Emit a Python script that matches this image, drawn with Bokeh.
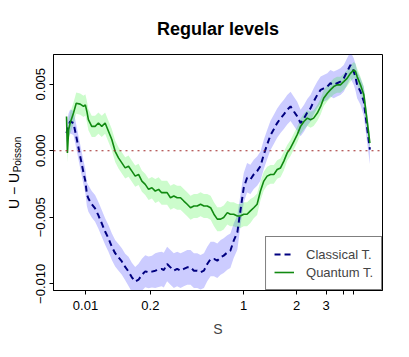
import numpy as np
from bokeh.plotting import figure
from bokeh.layouts import row
from bokeh.core.properties import value
from bokeh.models import (ColumnDataSource, Span, Legend, LegendItem,
                          FixedTicker, Range1d)
from bokeh.embed import file_html
from bokeh.resources import INLINE

# ---------------- data ----------------
# position on the (non-linear) S axis, expressed in unfolded units 0..1
pos = [0.000, 0.003, 0.007, 0.012, 0.023, 0.032, 0.045, 0.056, 0.062, 0.067,
       0.072, 0.083, 0.094, 0.105, 0.116, 0.127, 0.138, 0.149, 0.160, 0.171,
       0.182, 0.193, 0.204, 0.215, 0.226, 0.237, 0.248, 0.259, 0.270, 0.281,
       0.292, 0.303, 0.313, 0.320, 0.331, 0.342, 0.353, 0.364, 0.375, 0.386,
       0.397, 0.408, 0.419, 0.430, 0.441, 0.452, 0.463, 0.474, 0.485, 0.496,
       0.507, 0.517, 0.529, 0.539, 0.550, 0.562, 0.572, 0.583, 0.594, 0.605,
       0.616, 0.627, 0.638, 0.649, 0.660, 0.671, 0.682, 0.693, 0.704, 0.715,
       0.726, 0.737, 0.748, 0.759, 0.770, 0.781, 0.792, 0.803, 0.813, 0.825,
       0.836, 0.846, 0.858, 0.868, 0.879, 0.890, 0.901, 0.912, 0.923, 0.934,
       0.945, 0.951, 0.956, 0.967, 0.978, 0.989, 0.998]

# U - U_Poisson, in units of 1e-3
quantum_e3 = [2.58, -0.16, 1.58, 2.08, 2.83, 3.57, 3.50, 3.33, 3.45, 2.95,
              2.33, 1.83, 1.83, 2.08, 1.83, 2.08, 1.46, 0.84, -0.04, -0.54,
              -0.91, -1.29, -1.16, -1.53, -1.91, -1.78, -2.28, -2.53, -2.90, -2.78,
              -3.03, -2.90, -3.15, -3.15, -3.15, -3.53, -3.40, -3.53, -3.53, -3.78,
              -4.02, -4.28, -4.15, -4.15, -4.02, -4.15, -4.15, -4.28, -4.77, -5.14,
              -5.14, -5.02, -4.65, -4.77, -4.77, -4.90, -4.90, -4.77, -4.77, -4.52,
              -4.28, -4.02, -3.03, -2.28, -1.91, -1.78, -1.78, -1.41, -1.29, -0.78,
              -0.16, 0.21, 0.71, 1.21, 1.83, 2.20, 2.45, 2.33, 2.45, 2.83,
              3.33, 3.95, 4.32, 4.57, 4.82, 4.95, 4.95, 5.19, 5.44, 5.81,
              6.07, 5.94, 5.57, 4.95, 4.20, 2.20, 0.58]

classical_e3 = [1.31, 1.61, 1.91, 2.20, 2.08, 1.08, -0.41, -1.66, -2.28, -3.27,
                -3.59, -4.02, -4.33, -4.86, -5.46, -6.07, -6.58, -7.20, -7.70, -8.01,
                -8.32, -8.73, -9.07, -9.51, -9.83, -9.69, -9.32, -9.06, -9.14, -9.08,
                -9.01, -8.93, -8.88, -8.97, -8.51, -8.76, -9.01, -8.88, -9.01, -8.88,
                -8.76, -8.76, -9.01, -9.01, -9.13, -9.01, -8.51, -8.13, -8.13, -8.26,
                -8.01, -7.88, -7.64, -7.51, -6.76, -6.14, -4.52, -2.78, -2.03, -2.15,
                -1.78, -1.53, -1.16, -0.28, 0.46, 1.16, 1.61, 2.08, 2.43, 2.73,
                3.08, 3.33, 2.95, 2.58, 2.08, 2.43, 2.88, 3.20, 3.70, 4.20,
                4.57, 4.69, 4.82, 5.07, 4.95, 5.07, 5.19, 5.44, 5.94, 6.44,
                5.94, 5.49, 4.95, 4.45, 3.70, 1.70, 0.09]

# half-width of the shaded bands, in units of 1e-3
quantum_err_e3 = [0.6, 0.7, 0.8, 0.8, 0.8, 0.8, 0.8, 0.8, 0.8, 0.8,
                  0.8, 0.8, 0.8, 0.8, 0.8, 0.8, 0.8, 0.8, 0.8, 0.8,
                  0.8, 0.8, 0.8, 0.8, 0.8, 0.8, 0.8, 0.8, 0.8, 0.8,
                  0.9, 0.9, 0.9, 0.9, 0.9, 0.9, 0.9, 0.9, 0.9, 0.9,
                  0.9, 0.9, 0.9, 0.9, 0.9, 0.9, 0.9, 0.9, 0.9, 0.9,
                  0.9, 0.9, 0.9, 0.9, 0.9, 0.9, 0.9, 0.9, 0.9, 0.9,
                  0.8, 0.8, 0.7, 0.7, 0.7, 0.7, 0.7, 0.7, 0.7, 0.7,
                  0.6, 0.6, 0.6, 0.6, 0.6, 0.6, 0.6, 0.6, 0.6, 0.6,
                  0.6, 0.6, 0.6, 0.6, 0.6, 0.6, 0.6, 0.6, 0.6, 0.6,
                  0.6, 0.6, 0.6, 0.6, 0.6, 0.6, 0.6]

classical_err_e3 = [0.7, 0.8, 0.9, 0.9, 0.9, 0.9, 0.9, 0.9, 0.9, 0.9,
                    1.0, 1.0, 1.0, 1.0, 1.0, 1.0, 1.0, 1.0, 1.0, 1.0,
                    1.0, 1.0, 1.1, 1.1, 1.1, 1.2, 1.2, 1.2, 1.2, 1.2,
                    1.3, 1.3, 1.3, 1.3, 1.3, 1.3, 1.3, 1.3, 1.3, 1.3,
                    1.3, 1.3, 1.3, 1.3, 1.3, 1.3, 1.3, 1.3, 1.3, 1.3,
                    1.3, 1.3, 1.3, 1.3, 1.3, 1.3, 1.2, 1.1, 1.1, 1.1,
                    1.1, 1.1, 1.1, 1.1, 1.1, 1.1, 1.1, 1.1, 1.1, 1.1,
                    1.1, 1.1, 1.1, 1.1, 1.0, 1.0, 1.0, 1.0, 1.0, 1.0,
                    1.0, 1.0, 1.0, 1.0, 1.0, 1.0, 1.0, 1.0, 1.0, 1.0,
                    1.0, 1.0, 1.0, 1.0, 1.1, 1.1, 1.1]

x_tick_pos = [0.0625, 0.276, 0.583, 0.757, 0.854, 0.910, 0.945]
x_tick_labels = ["0.01", "0.2", "1", "2", "3", "", ""]
y_tick_vals = [-0.010, -0.005, 0.0, 0.005]
y_tick_labels = ["\u22120.010", "\u22120.005", "0.000", "0.005"]

series_names = ["Classical T.", "Quantum T."]
y_title_main = "U \u2212 U"
y_title_sub = "Poisson"

# ---------------- build ----------------
FONT = "Liberation Sans"
W, H = 409, 357
YW = 26                      # width of the strip that carries the y-axis title
FT, FB = 53, 290             # frame top / bottom (pixels from the top)

x = np.array(pos)
q = np.array(quantum_e3) * 1e-3
c = np.array(classical_e3) * 1e-3
qe = np.array(quantum_err_e3) * 1e-3
ce = np.array(classical_err_e3) * 1e-3

src = ColumnDataSource(dict(x=x, q=q, c=c, q_lo=q - qe, q_hi=q + qe,
                            c_lo=c - ce, c_hi=c + ce))

# narrow strip with the rotated y-axis title (main text + subscript);
# its frame is aligned with the main frame, so its y range is in pixels-from-bottom
ylab = figure(width=YW, height=H, output_backend="svg", toolbar_location=None,
              x_range=Range1d(0, YW), y_range=Range1d(H - FB, H - FT),
              min_border=0, min_border_top=FT, min_border_bottom=H - FB,
              x_axis_type=None, y_axis_type=None)
ylab.title.visible = False
ylab.outline_line_color = None
ylab.background_fill_color = "white"
ylab.border_fill_color = "white"
ylab.text(x=[13], y=[H - 190], text=[y_title_main], angle=np.pi / 2,
          text_align="center", text_baseline="middle", text_font=value(FONT),
          text_font_size="14px", text_color="black")
ylab.text(x=[16.5], y=[H - 153.5], text=[y_title_sub], angle=np.pi / 2,
          text_align="center", text_baseline="middle", text_font=value(FONT),
          text_font_size="10px", text_color="black")

p = figure(width=W - YW, height=H, output_backend="svg", toolbar_location=None,
           x_range=Range1d(-0.0428, 1.0395), y_range=Range1d(-0.0105, 0.00723),
           min_border_left=53 - YW, min_border_right=27, min_border_top=FT,
           min_border_bottom=H - FB)
p.background_fill_color = "white"
p.border_fill_color = "white"
p.outline_line_color = "black"
p.outline_line_width = 1
p.xgrid.visible = False
p.ygrid.visible = False

p.title.text = "Regular levels"
p.title.align = "center"
p.title.text_font = FONT
p.title.text_font_size = "18px"
p.title.text_font_style = "bold"
p.title.text_color = "black"
p.title.standoff = 32

# bands
p.varea(x="x", y1="c_lo", y2="c_hi", source=src, fill_color="#0000ff", fill_alpha=0.2)
p.varea(x="x", y1="q_lo", y2="q_hi", source=src, fill_color="#00ee00", fill_alpha=0.2)

# zero line
p.add_layout(Span(location=0, dimension="width", line_color="#a02828",
                  line_dash="2 4", line_width=1.2))

rc = p.line(x="x", y="c", source=src, line_color="#000080", line_width=2,
            line_dash="6 4")
rq = p.line(x="x", y="q", source=src, line_color="#118a11", line_width=1.6)

# axes
for ax in (p.xaxis[0], p.yaxis[0]):
    ax.axis_line_color = "black"
    ax.major_tick_line_color = "black"
    ax.major_tick_out = 4
    ax.major_tick_in = 0
    ax.minor_tick_line_color = None
    ax.major_label_text_font = FONT
    ax.major_label_text_font_size = "13px"
    ax.major_label_text_color = "black"

p.xaxis.ticker = FixedTicker(ticks=x_tick_pos)
p.xaxis.major_label_overrides = {t: l for t, l in zip(x_tick_pos, x_tick_labels)}
p.xaxis.major_label_standoff = 6
p.xaxis.axis_label = "S"
p.xaxis.axis_label_text_font = FONT
p.xaxis.axis_label_text_font_size = "14px"
p.xaxis.axis_label_text_font_style = "normal"
p.xaxis.axis_label_standoff = 8

p.yaxis.ticker = FixedTicker(ticks=y_tick_vals)
p.yaxis.major_label_overrides = {t: l for t, l in zip(y_tick_vals, y_tick_labels)}
p.yaxis.major_label_orientation = "vertical"
p.yaxis.major_label_standoff = 4

legend = Legend(items=[LegendItem(label=series_names[0], renderers=[rc]),
                       LegendItem(label=series_names[1], renderers=[rq])],
                location="bottom_right", margin=0, padding=8, spacing=0,
                glyph_width=20, glyph_height=18, label_height=18,
                label_standoff=12, border_line_color="black", border_line_width=1,
                background_fill_color="white", background_fill_alpha=1,
                label_text_font=FONT, label_text_font_size="13px")
p.add_layout(legend, "center")

layout = row(ylab, p)
open("out.html", "w").write(file_html(layout, INLINE))
